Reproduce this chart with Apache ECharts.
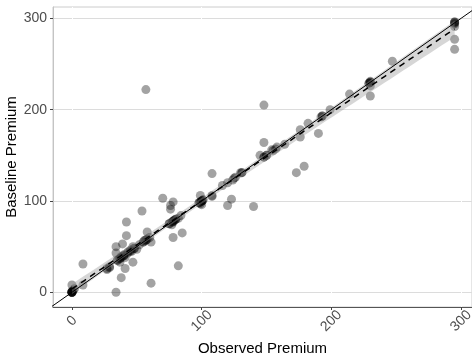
<!DOCTYPE html>
<html>
<head>
<meta charset="utf-8">
<script src="https://cdn.jsdelivr.net/npm/echarts@6/dist/echarts.min.js"></script>
<style>html,body{margin:0;padding:0;background:#fff}#c{width:472px;height:360px}</style>
</head>
<body>
<div id="c"></div>
<script>
// Observed premium (x) and Baseline premium (y) per point (overlapping points repeated)
const observed = [
  0,0,0,0,0,0,0,1,0,2,8.5,8.5,27,27,29,29,
  34,38,41,37,47,34,34,39,47,42,42,54,58,61,61,82,
  35,35,37,37,38,38,40,40,40,41,43,43,45,45,46,48,48,50,52,55,55,56,57,57,58,60,
  70,76,76,78,84,78,85,78,
  75,75,77,77,78,78,79,80,80,82,
  98,98,99,99,100,100,100,101,101,100,99,108,108,108,120,123,140,
  116,120,124,125,126,131,130,131,
  148,148,145,148,148,150,150,154,155,158,164,157,
  173,179,176,176,182,190,193,193,192,199,214,229,229,230,230,230,230,230,
  247,295,295,295,295,295,295,295,57
];
const baseline = [
  0,0,0,0,0,1,0,2,8,4,8,31,25,26,27,28,
  0,16,26,33,33,43,50,53,50,62,77,89,66,55,10,29,
  35,35,37,37,39,38,40,40,41,38,44,43,46,45,45,48,48,47,52,55,55,57,57,57,58,60,
  103,95,91,99,84,77,65,60,
  75,75,74,77,78,78,79,80,80,81,
  98,98,97,99,100,100,100,101,101,96,106,106,130,105,95,102,94,
  117,120,123,125,126,131,131,131,
  205,164,150,148,148,150,150,156,155,159,162,157,
  131,138,178,170,185,174,193,193,192,200,217,229,229,231,230,230,215,226,
  253,296,296,295,294,291,277,266,222
];
const tickValues = [0, 100, 200, 300];
const xTitle = 'Observed Premium';
const yTitle = 'Baseline Premium';

const points = observed.map((x, i) => [x, baseline[i]]);

// linear model fit (like geom_smooth(method = "lm")) with 95% band
const n = observed.length;
const xbar = observed.reduce((a, b) => a + b, 0) / n;
const ybar = baseline.reduce((a, b) => a + b, 0) / n;
let sxx = 0, sxy = 0;
for (let i = 0; i < n; i++) { sxx += (observed[i] - xbar) ** 2; sxy += (observed[i] - xbar) * (baseline[i] - ybar); }
const slope = sxy / sxx, intercept = ybar - slope * xbar;
let sse = 0;
for (let i = 0; i < n; i++) { sse += (baseline[i] - intercept - slope * observed[i]) ** 2; }
const s = Math.sqrt(sse / (n - 2));
const xmin = Math.min(...observed), xmax = Math.max(...observed);
const fitLine = [], upper = [], lower = [];
for (let k = 0; k <= 60; k++) {
  const x = xmin + (xmax - xmin) * k / 60;
  const yh = intercept + slope * x;
  const se = 1.97 * s * Math.sqrt(1 / n + (x - xbar) ** 2 / sxx);
  fitLine.push([x, yh]); upper.push([x, yh + se]); lower.push([x, yh - se]);
}
const band = upper.concat(lower.slice().reverse());

const chart = echarts.init(document.getElementById('c'), null, { renderer: 'canvas' });
const font = 'Liberation Sans, Arial, sans-serif';
chart.setOption({
  animation: false,
  grid: { left: 53, right: 0, top: 7, bottom: 53, containLabel: false, outerBoundsMode: 'none',
          show: true, borderColor: '#cccccc', borderWidth: 1, backgroundColor: '#fff' },
  graphic: [{
    type: 'text', x: 12, y: 157, rotation: Math.PI / 2,
    style: { text: yTitle, fill: '#000', font: '15px ' + font, align: 'center', verticalAlign: 'middle' }
  }],
  xAxis: {
    type: 'value', min: -14.6, max: 308.4, z: 1,
    name: xTitle, nameLocation: 'middle', nameGap: 34, nameMoveOverlap: false,
    nameTextStyle: { color: '#000', fontSize: 15, fontFamily: font },
    axisLine: { show: true, onZero: false, lineStyle: { color: '#555', width: 1 } },
    axisTick: { show: true, length: 3, customValues: tickValues, lineStyle: { color: '#444' } },
    axisLabel: { customValues: tickValues, rotate: 45, align: 'center', verticalAlign: 'middle', margin: 14, color: '#4d4d4d', fontSize: 14, fontFamily: font },
    splitLine: { show: true, lineStyle: { color: '#ffffff', width: 1 } }
  },
  yAxis: {
    type: 'value', min: -16.1, max: 312.4,
    axisLine: { show: true, onZero: false, lineStyle: { color: '#c4c4c4', width: 1 } },
    axisTick: { show: true, length: 3, customValues: tickValues, lineStyle: { color: '#444' } },
    axisLabel: { customValues: tickValues, margin: 6, color: '#4d4d4d', fontSize: 14, fontFamily: font },
    splitLine: { show: true, lineStyle: { color: '#dcdcdc', width: 1 } }
  },
  series: [
    {
      type: 'scatter', data: points, symbolSize: 9, z: 2,
      itemStyle: { color: 'rgba(0,0,0,0.45)' }
    },
    {
      type: 'custom', z: 3, clip: true, data: [0],
      renderItem: function (params, api) {
        return { type: 'polygon', shape: { points: band.map(p => api.coord(p)) }, style: { fill: 'rgba(153,153,153,0.4)' } };
      }
    },
    {
      type: 'line', data: [[-40, -40], [340, 340]], clip: true, z: 4, symbol: 'none',
      lineStyle: { color: '#000', width: 1 }
    },
    {
      type: 'line', data: fitLine, z: 5, symbol: 'none',
      lineStyle: { color: '#000', width: 1.5, type: [6, 5] }
    }
  ]
});
</script>
</body>
</html>
